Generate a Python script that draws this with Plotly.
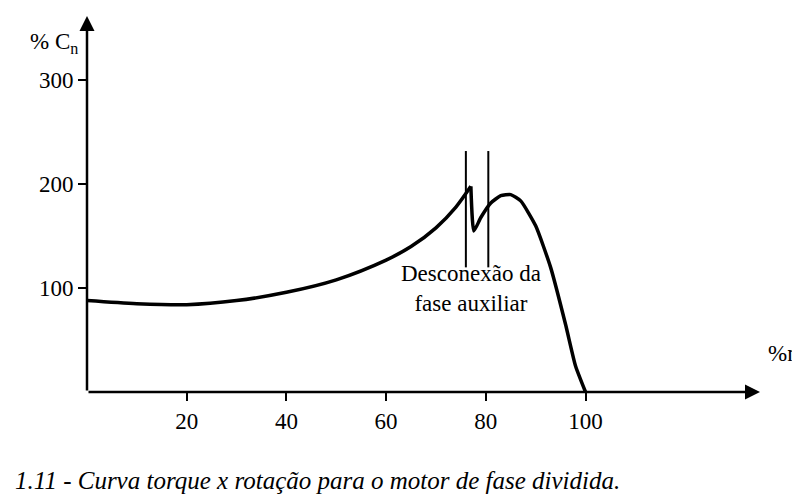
import plotly.graph_objects as go

# curve (% rotation, % torque)
rot1 = [0, 10, 20, 30, 40, 50, 60, 65, 70, 74, 77]
torque1 = [88, 85, 84, 88, 96, 108, 127, 140, 158, 178, 198]
rot2 = [77, 77.6, 79, 81, 83, 85, 87, 90, 93, 96, 98, 100]
torque2 = [198, 155, 168, 182, 189, 190, 184, 160, 120, 65, 25, 0]
xticks = [20, 40, 60, 80, 100]
yticks = [100, 200, 300]
lines_x = [76, 80.5]

fig = go.Figure()
fig.add_trace(go.Scatter(x=rot1, y=torque1, mode="lines", line=dict(color="black", width=3.5, shape="spline", smoothing=0.8)))
fig.add_trace(go.Scatter(x=rot2, y=torque2, mode="lines", line=dict(color="black", width=3.5, shape="spline", smoothing=0.5)))
for lx in lines_x:
    fig.add_shape(type="line", x0=lx, x1=lx, y0=120, y1=232, line=dict(color="black", width=2))

font = dict(family="Liberation Serif", size=23, color="black")
fig.update_layout(
    width=800, height=498, margin=dict(l=79, r=48, t=8, b=114),
    paper_bgcolor="white", plot_bgcolor="white", showlegend=False, font=font,
    xaxis=dict(range=[0, 135], tickvals=xticks, showgrid=False, zeroline=False, showline=False,
               ticks="outside", ticklen=8, tickwidth=2, tickcolor="black", tickfont=font),
    yaxis=dict(range=[0, 362], tickvals=yticks, showgrid=False, zeroline=False, showline=False,
               ticks="outside", ticklen=8, tickwidth=2, tickcolor="black", tickfont=font),
)
# axes with arrows
fig.add_annotation(x=135, y=0, ax=0, ay=0, axref="x", ayref="y", xref="x", yref="y", text="",
                   showarrow=True, arrowhead=2, arrowsize=1.2, arrowwidth=2.5, arrowcolor="black")
fig.add_annotation(x=0, y=362, ax=0, ay=0, axref="x", ayref="y", xref="x", yref="y", text="",
                   showarrow=True, arrowhead=2, arrowsize=1.2, arrowwidth=2.5, arrowcolor="black")
fig.add_annotation(x=-0.01, y=0.97, xref="paper", yref="paper", text="% C<sub>n</sub>", showarrow=False,
                   xanchor="right", font=font)
fig.add_annotation(x=1.07, y=0.055, xref="paper", yref="paper", text="%n<sub>s</sub>", showarrow=False,
                   xanchor="right", font=font)
fig.add_annotation(x=77, y=100, xref="x", yref="y", text="Desconexão da<br>fase auxiliar", showarrow=False, font=font)
fig.add_annotation(x=-0.11, y=-0.235, xref="paper", yref="paper", xanchor="left", yanchor="middle",
                   text="<i>1.11 - Curva torque x rotação para o motor de fase dividida.</i>", showarrow=False,
                   font=dict(family="Liberation Serif", size=25, color="black"))
fig.write_html("out.html")
